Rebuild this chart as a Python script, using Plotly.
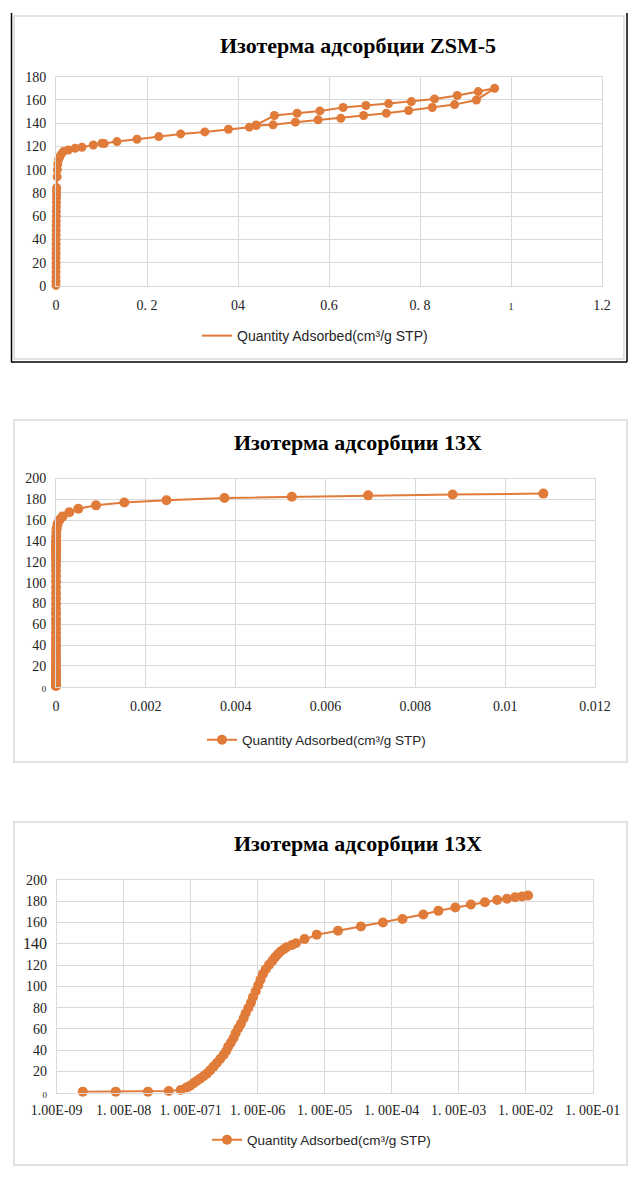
import plotly.graph_objects as go

ORANGE = "#E07B3A"
GRID = "#D9D9D9"
SERIF = "Liberation Serif"
SANS = "Liberation Sans"
SERIES = "Quantity Adsorbed(cm³/g STP)"

# ZSM-5 isotherm, relative pressure p/p0 (adsorption branch, then desorption back)
zsm_p = [0.00001, 0.00002, 0.00003, 0.00005, 0.00007, 0.0001, 0.00013, 0.00016,
         0.0002, 0.00025, 0.0003, 0.00036, 0.00043, 0.0005, 0.0006, 0.0007,
         0.0008, 0.0009, 0.001, 0.0011, 0.0012, 0.0013, 0.0015,
         0.0025, 0.003, 0.004, 0.006, 0.008, 0.011, 0.016, 0.027, 0.042, 0.057,
         0.082, 0.101, 0.106, 0.134, 0.178, 0.226, 0.274, 0.327, 0.379, 0.425,
         0.44, 0.477, 0.526, 0.576, 0.626, 0.676, 0.726, 0.775, 0.827, 0.876,
         0.924, 0.964,
         0.928, 0.882, 0.832, 0.781, 0.731, 0.681, 0.631, 0.58, 0.53, 0.48, 0.44]
zsm_q = [0.5, 4, 8, 12, 16, 20, 24, 28,
         32, 36, 40, 44, 48, 52, 56, 60,
         64, 68, 72, 76, 79, 82, 84.5,
         94, 100, 105, 109, 111, 113, 115.6, 117, 118.5, 119.3,
         121.3, 122.8, 122.5, 124.2, 126.2, 128.5, 130.8, 132.5, 134.8, 136.6,
         138, 138.6, 140.9, 142.9, 144.3, 146.6, 148.6, 150.9, 153.5, 156,
         160, 170,
         167.2, 163.8, 160.9, 158.6, 156.9, 155.2, 153.5, 150.6, 148.6, 146.6, 138.5]

# 13X isotherm, absolute pressure (same points for the linear and the log chart)
x13_p = [2.45e-9, 7.6e-9, 2.3e-8, 4.7e-8, 7.1e-8, 8.7e-8, 9.8e-8, 1.10e-7,
         1.23e-7, 1.38e-7, 1.55e-7, 1.74e-7, 1.95e-7, 2.19e-7, 2.45e-7, 2.75e-7,
         3.09e-7, 3.39e-7, 3.63e-7, 3.98e-7, 4.37e-7, 4.68e-7, 5.13e-7, 5.62e-7,
         6.17e-7, 6.61e-7, 7.24e-7, 7.94e-7, 8.51e-7, 9.33e-7, 1.02e-6, 1.10e-6,
         1.20e-6, 1.32e-6, 1.48e-6, 1.66e-6, 1.82e-6, 2.00e-6, 2.19e-6, 2.45e-6,
         2.69e-6, 3.24e-6, 3.72e-6, 5.0e-6, 7.6e-6, 1.58e-5, 3.47e-5, 7.4e-5,
         1.45e-4, 2.96e-4, 4.97e-4, 8.9e-4, 1.52e-3, 2.46e-3, 3.75e-3, 5.25e-3,
         6.95e-3, 8.83e-3, 1.085e-2]
x13_q = [1, 1, 1, 1.6, 2.5, 5.0, 6.6, 8.8,
         11.0, 13.2, 15.4, 17.9, 21.0, 24.5, 27.9, 31.7,
         35.5, 39.2, 43.3, 47.1, 51.5, 55.9, 60.6, 64.9,
         70.0, 74.7, 79.7, 84.7, 90.0, 95.4, 101.0, 106.3,
         111.7, 116.1, 120.4, 124.2, 127.3, 130.2, 132.7, 134.9,
         136.8, 138.9, 140.5, 144.5, 148.6, 152.3, 156.2, 160.0,
         163.4, 167.5, 171.0, 174.2, 177.0, 179.1, 181.2, 182.4,
         183.8, 184.6, 185.5]

TITLES = ["Изотерма адсорбции ZSM-5", "Изотерма адсорбции 13X", "Изотерма адсорбции 13X"]

zsm_xticks = [0, 0.2, 0.4, 0.6, 0.8, 1.0, 1.2]
zsm_xlabels = ["0", "0. 2", "04", "0.6", "0. 8", "<span style='font-size:10px'>1</span>", "1.2"]
zsm_yticks = list(range(0, 181, 20))

lin_xticks = [0, 0.002, 0.004, 0.006, 0.008, 0.01, 0.012]
lin_xlabels = ["0", "0.002", "0.004", "0.006", "0.008", "0.01", "0.012"]
yticks_200 = list(range(0, 201, 20))
small0 = "<span style='font-size:9px'>0</span>"
lin_ylabels = [small0] + [str(v) for v in yticks_200[1:]]

log_xticks = [1e-9, 1e-8, 1e-7, 1e-6, 1e-5, 1e-4, 1e-3, 1e-2, 1e-1]
log_xlabels = ["1.00E-09", "1. 00E-08", "1. 00E-071", "1. 00E-06", "1. 00E-05",
               "1. 00E-04", "1. 00E-03", "1. 00E-02", "1. 00E-01"]
log_ylabels = [small0] + [("<span style='font-size:16px'>140</span>" if v == 140 else str(v))
                          for v in yticks_200[1:]]

# page pixel -> paper fraction (page body keeps its 8px margin)
OFF, W, H = 8, 620, 1160


def px(x):
    return (x - OFF) / W


def py(y):
    return 1 - (y - OFF) / H


def axis_style(**kw):
    base = dict(showgrid=True, gridcolor=GRID, gridwidth=1, zeroline=False,
                showline=True, linecolor=GRID, linewidth=1, mirror=True,
                automargin=False, ticks="", tickangle=0,
                tickfont=dict(family=SERIF, size=14, color="#222"))
    base.update(kw)
    return base


fig = go.Figure()

line = dict(color=ORANGE, width=2)

fig.add_trace(go.Scatter(x=zsm_p, y=zsm_q, mode="lines+markers", line=line,
                         marker=dict(color=ORANGE, size=9),
                         xaxis="x", yaxis="y", cliponaxis=False, showlegend=False))
# legend of the first chart shows the line only
fig.add_trace(go.Scatter(x=[None], y=[None], mode="lines", line=line, name=SERIES,
                         xaxis="x", yaxis="y", legend="legend"))
fig.add_trace(go.Scatter(x=x13_p, y=x13_q, mode="lines+markers", line=line,
                         marker=dict(color=ORANGE, size=10), name=SERIES,
                         xaxis="x2", yaxis="y2", cliponaxis=False, legend="legend2"))
fig.add_trace(go.Scatter(x=x13_p, y=x13_q, mode="lines+markers", line=line,
                         marker=dict(color=ORANGE, size=10), name=SERIES,
                         xaxis="x3", yaxis="y3", cliponaxis=False, legend="legend3"))

legend_base = dict(bgcolor="rgba(0,0,0,0)", xanchor="left", yanchor="middle", itemclick=False)

fig.update_layout(
    width=W, height=H, margin=dict(l=0, r=0, t=0, b=0, autoexpand=False),
    paper_bgcolor="white", plot_bgcolor="white",
    xaxis=axis_style(domain=[px(56), px(602)], range=[0, 1.2], tickvals=zsm_xticks,
                     ticktext=zsm_xlabels, anchor="y", ticklabelstandoff=6),
    yaxis=axis_style(domain=[py(286), py(76.7)], range=[0, 180], tickvals=zsm_yticks,
                     anchor="x", ticklabelstandoff=6),
    xaxis2=axis_style(domain=[px(56), px(595)], range=[0, 0.012], tickvals=lin_xticks,
                      ticktext=lin_xlabels, anchor="y2", ticklabelstandoff=6),
    yaxis2=axis_style(domain=[py(686.7), py(478.5)], range=[0, 200], tickvals=yticks_200,
                      ticktext=lin_ylabels, anchor="x2", ticklabelstandoff=6),
    xaxis3=axis_style(domain=[px(56.7), px(592.7)], type="log", range=[-9, -1],
                      tickvals=log_xticks, ticktext=log_xlabels, anchor="y3",
                      ticklabelstandoff=4),
    yaxis3=axis_style(domain=[py(1092.7), py(880)], range=[0, 200], tickvals=yticks_200,
                      ticktext=log_ylabels, anchor="x3", ticklabelstandoff=6),
    legend=dict(legend_base, x=px(197), y=py(336),
                font=dict(family=SANS, size=14, color="#262626")),
    legend2=dict(legend_base, x=px(202), y=py(740),
                 font=dict(family=SANS, size=13.5, color="#262626")),
    legend3=dict(legend_base, x=px(207), y=py(1140),
                 font=dict(family=SANS, size=13.5, color="#262626")),
)

for title, yc in zip(TITLES, [45, 442, 843]):
    fig.add_annotation(text=f"<b>{title}</b>", xref="paper", yref="paper",
                       x=px(358), y=py(yc), xanchor="center", yanchor="middle",
                       showarrow=False, font=dict(family=SERIF, size=22, color="black"))

# chart frames
fig.add_shape(type="rect", xref="paper", yref="paper", x0=px(14), x1=px(624),
              y0=py(359), y1=py(16), line=dict(color=GRID, width=1.5))
for x0, y0, x1, y1 in [(11.5, 13, 11.5, 362), (11, 362, 627, 362), (627, 13, 627, 362)]:
    fig.add_shape(type="line", xref="paper", yref="paper", x0=px(x0), y0=py(y0),
                  x1=px(x1), y1=py(y1), line=dict(color="black", width=1.5))
for top, bottom in [(420, 762), (822, 1165)]:
    fig.add_shape(type="rect", xref="paper", yref="paper", x0=px(14), x1=px(627),
                  y0=py(bottom), y1=py(top), line=dict(color=GRID, width=1.5))

fig.write_html("out.html")
